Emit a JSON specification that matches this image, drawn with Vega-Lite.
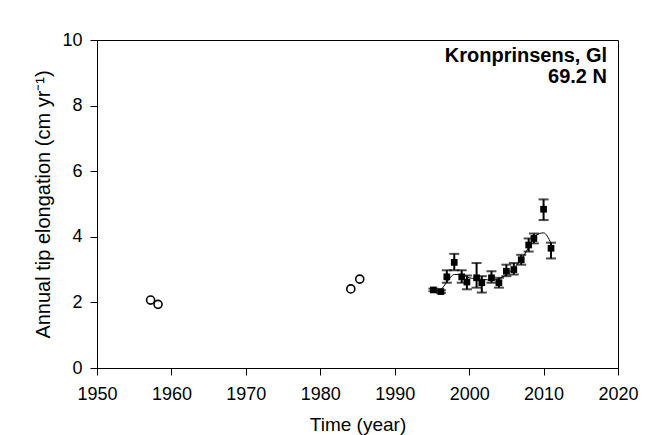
{
  "$schema": "https://vega.github.io/schema/vega-lite/v6.json",
  "width": 521,
  "height": 328,
  "autosize": {"type": "none"},
  "padding": {"left": 97, "top": 40, "right": 52, "bottom": 67},
  "background": "white",
  "config": {
    "font": "Liberation Sans",
    "view": {"stroke": "black", "strokeWidth": 1},
    "axis": {
      "domainColor": "black",
      "tickColor": "black",
      "labelColor": "black",
      "titleColor": "black",
      "grid": false,
      "labelFont": "Liberation Sans",
      "titleFont": "Liberation Sans",
      "labelFontSize": 18,
      "titleFontWeight": "normal",
      "tickSize": 7,
      "domainWidth": 1,
      "tickWidth": 1
    }
  },
  "datasets": {
    "early": [
      {"year": 1957.2, "value": 2.07},
      {"year": 1958.2, "value": 1.94},
      {"year": 1984.1, "value": 2.41},
      {"year": 1985.3, "value": 2.71}
    ],
    "measured": [
      {"year": 1995.2, "value": 2.38, "lo": 2.34, "hi": 2.42},
      {"year": 1996.2, "value": 2.33, "lo": 2.29, "hi": 2.37},
      {"year": 1997.0, "value": 2.78, "lo": 2.6, "hi": 2.98},
      {"year": 1998.0, "value": 3.22, "lo": 2.98, "hi": 3.48},
      {"year": 1999.0, "value": 2.78, "lo": 2.6, "hi": 2.98},
      {"year": 1999.7, "value": 2.62, "lo": 2.4, "hi": 2.82},
      {"year": 2001.0, "value": 2.75, "lo": 2.45, "hi": 3.2},
      {"year": 2001.7, "value": 2.6, "lo": 2.3, "hi": 2.8},
      {"year": 2003.0, "value": 2.75, "lo": 2.6, "hi": 2.95},
      {"year": 2004.0, "value": 2.6, "lo": 2.45, "hi": 2.75},
      {"year": 2005.0, "value": 2.95, "lo": 2.8, "hi": 3.15},
      {"year": 2006.0, "value": 3.0, "lo": 2.85, "hi": 3.2},
      {"year": 2007.0, "value": 3.3, "lo": 3.15, "hi": 3.45},
      {"year": 2008.0, "value": 3.75, "lo": 3.55, "hi": 3.95},
      {"year": 2008.7, "value": 3.95, "lo": 3.8, "hi": 4.1},
      {"year": 2010.0, "value": 4.84, "lo": 4.51, "hi": 5.14},
      {"year": 2011.0, "value": 3.65, "lo": 3.34, "hi": 3.82}
    ],
    "smooth": [
      {"year": 1995.2, "value": 2.36},
      {"year": 1996.2, "value": 2.4},
      {"year": 1997.0, "value": 2.62},
      {"year": 1998.0, "value": 2.85},
      {"year": 1999.0, "value": 2.85},
      {"year": 2000.0, "value": 2.75},
      {"year": 2001.0, "value": 2.72},
      {"year": 2002.0, "value": 2.7},
      {"year": 2003.0, "value": 2.68},
      {"year": 2004.0, "value": 2.72},
      {"year": 2005.0, "value": 2.85},
      {"year": 2006.0, "value": 3.05},
      {"year": 2007.0, "value": 3.3},
      {"year": 2008.0, "value": 3.68},
      {"year": 2009.0, "value": 4.05},
      {"year": 2010.0, "value": 4.12},
      {"year": 2011.0, "value": 3.8}
    ],
    "label": [
      {"line1": "Kronprinsens, Gl", "line2": "69.2 N"}
    ]
  },
  "layer": [
    {
      "data": {"name": "smooth"},
      "mark": {"type": "line", "color": "black", "strokeWidth": 1, "interpolate": "monotone"},
      "encoding": {
        "x": {"field": "year", "type": "quantitative", "scale": {"domain": [1950, 2020], "nice": false, "zero": false},
          "axis": {"title": "Time (year)", "titleFontSize": 19, "values": [1950, 1960, 1970, 1980, 1990, 2000, 2010, 2020], "format": "d", "labelPadding": 10, "titlePadding": 12, "labelFlush": false}},
        "y": {"field": "value", "type": "quantitative", "scale": {"domain": [0, 10], "nice": false},
          "axis": {"title": "Annual tip elongation (cm yr⁻¹)", "titleFontSize": 20, "values": [0, 2, 4, 6, 8, 10], "labelPadding": 8, "titlePadding": 8}}
      }
    },
    {
      "data": {"name": "measured"},
      "mark": {"type": "rule", "color": "black", "strokeWidth": 2},
      "encoding": {
        "x": {"field": "year", "type": "quantitative"},
        "y": {"field": "lo", "type": "quantitative"},
        "y2": {"field": "hi"}
      }
    },
    {
      "data": {"name": "measured"},
      "mark": {"type": "tick", "color": "black", "orient": "horizontal", "size": 10, "thickness": 2},
      "encoding": {
        "x": {"field": "year", "type": "quantitative"},
        "y": {"field": "lo", "type": "quantitative"}
      }
    },
    {
      "data": {"name": "measured"},
      "mark": {"type": "tick", "color": "black", "orient": "horizontal", "size": 10, "thickness": 2},
      "encoding": {
        "x": {"field": "year", "type": "quantitative"},
        "y": {"field": "hi", "type": "quantitative"}
      }
    },
    {
      "data": {"name": "measured"},
      "mark": {"type": "square", "color": "black", "filled": true, "size": 45, "opacity": 1},
      "encoding": {
        "x": {"field": "year", "type": "quantitative"},
        "y": {"field": "value", "type": "quantitative"}
      }
    },
    {
      "data": {"name": "early"},
      "mark": {"type": "point", "shape": "circle", "filled": false, "color": "black", "size": 65, "strokeWidth": 1.6, "opacity": 1},
      "encoding": {
        "x": {"field": "year", "type": "quantitative"},
        "y": {"field": "value", "type": "quantitative"}
      }
    },
    {
      "data": {"name": "label"},
      "mark": {"type": "text", "align": "right", "baseline": "top", "fontSize": 20, "fontWeight": "bold", "font": "Liberation Sans", "color": "black", "dx": -11, "dy": 6, "lineHeight": 21},
      "encoding": {
        "x": {"datum": 2020},
        "y": {"datum": 10},
        "text": {"field": "line1"}
      }
    },
    {
      "data": {"name": "label"},
      "mark": {"type": "text", "align": "right", "baseline": "top", "fontSize": 20, "fontWeight": "bold", "font": "Liberation Sans", "color": "black", "dx": -11, "dy": 27},
      "encoding": {
        "x": {"datum": 2020},
        "y": {"datum": 10},
        "text": {"field": "line2"}
      }
    }
  ]
}
